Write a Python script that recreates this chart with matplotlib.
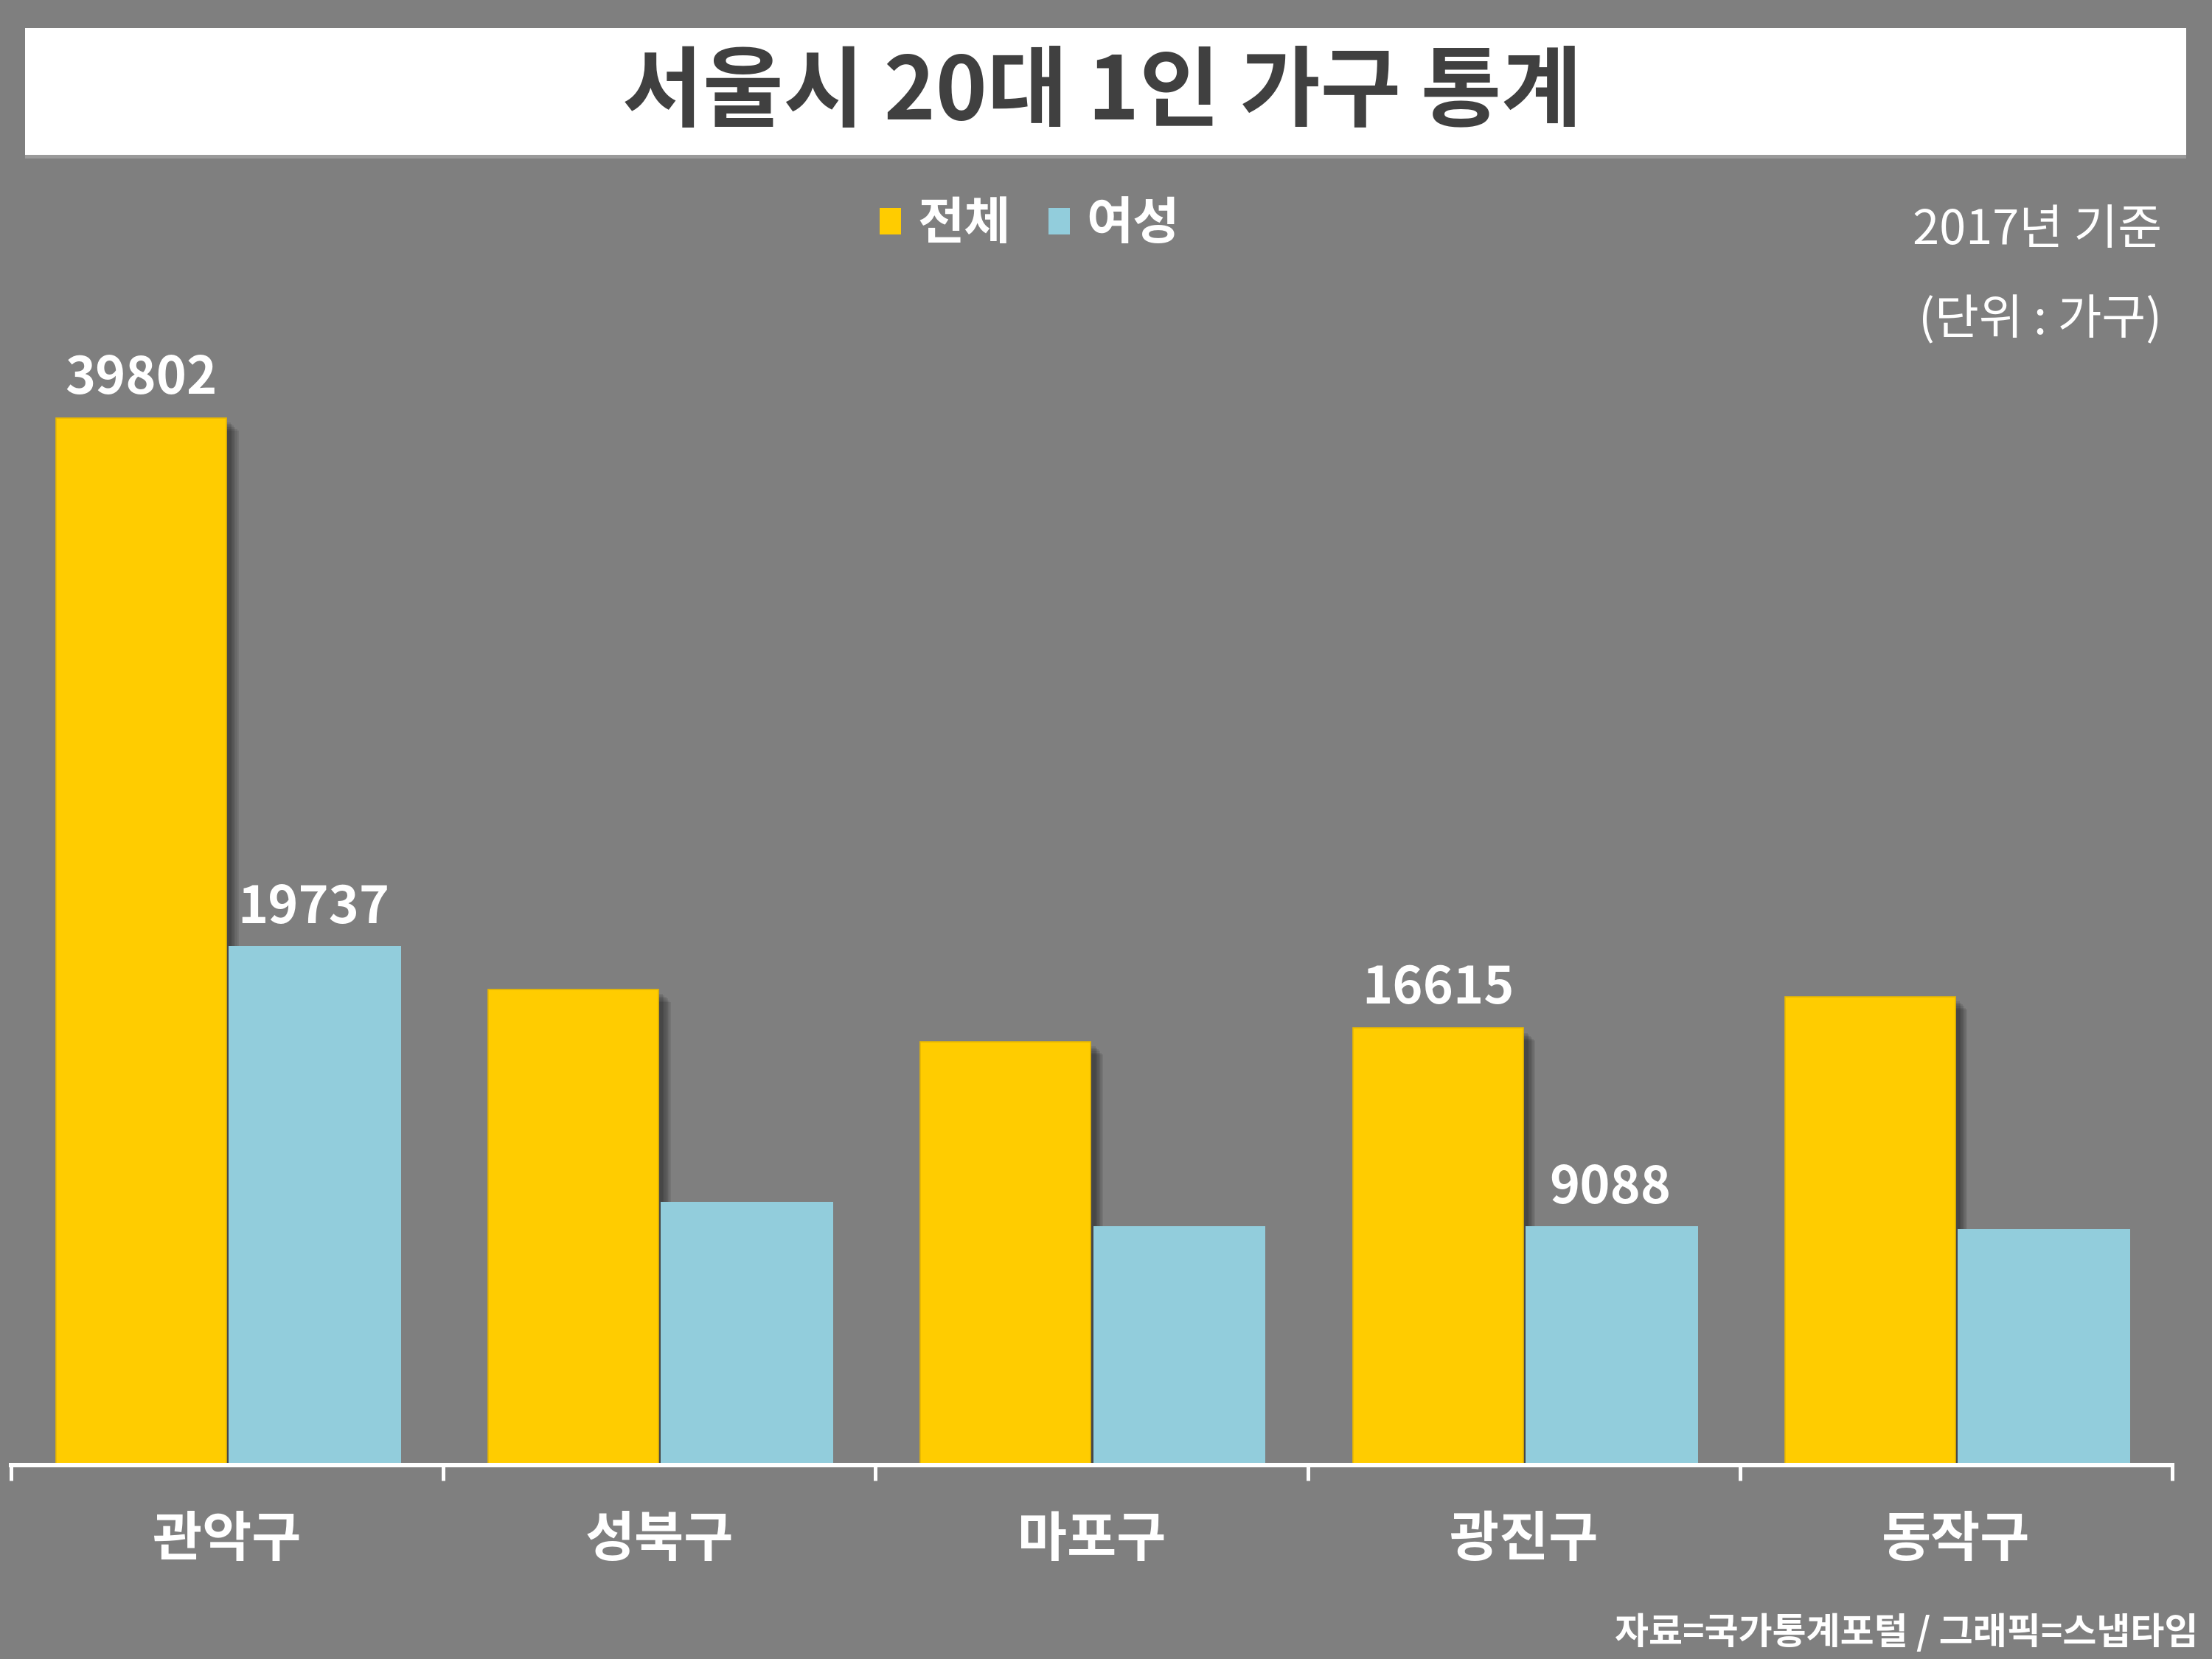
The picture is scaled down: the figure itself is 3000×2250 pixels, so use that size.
import matplotlib
matplotlib.use("Agg")
import matplotlib.pyplot as plt
from matplotlib import patheffects as pe
from matplotlib.patches import Rectangle

plt.rcParams['font.family'] = ['Noto Sans CJK KR', 'DejaVu Sans']

# ---- data ----
categories = ['관악구', '성북구', '마포구', '광진구', '동작구']
total = [39802, 18084, 16094, 16615, 17804]
female = [19737, 10013, 9090, 9088, 8976]
show_total_label = [True, False, False, True, False]
show_female_label = [True, False, False, True, False]
series_names = ['전체', '여성']
title = '서울시 20대 1인 가구 통계'
note1 = '2017년 기준'
note2 = '(단위 : 가구)'
source = '자료=국가통계포털 / 그래픽=스냅타임'

BG = '#7F7F7F'
YELLOW = '#FFCC00'
BLUE = '#92CDDC'

fig = plt.figure(figsize=(10, 7.5), dpi=300, facecolor=BG)

# title box
fig.patches.append(Rectangle((0.01133, 0.9067), 0.977, 0.0764, transform=fig.transFigure,
                             facecolor='white', edgecolor='none', zorder=0,
                             path_effects=[pe.SimplePatchShadow(offset=(0, -1.2), shadow_rgbFace='#9a9a9a', alpha=1.0), pe.Normal()]))
fig.text(0.4983, 0.9435, title, ha='center', va='center', fontsize=28.5, fontweight='heavy', color='#404040')

ax = fig.add_axes([0.005, 0.11676, 0.977, 0.71369])
ax.set_facecolor('none')
x = list(range(len(categories)))

shadow = [pe.SimplePatchShadow(offset=(o, -o), shadow_rgbFace='black', alpha=0.085)
          for o in (4.0, 3.5, 3.0, 2.5, 2.0, 1.5)] + [pe.Normal()]

b1 = ax.bar([i - 0.199 for i in x], total, width=0.394, color=YELLOW, edgecolor='#E8B800',
            linewidth=0.4, label=series_names[0], zorder=2)
for p in b1.patches:
    p.set_path_effects(shadow)
b2 = ax.bar([i + 0.203 for i in x], female, width=0.399, color=BLUE, edgecolor='none',
            label=series_names[1], zorder=3)

for i, (v, s) in enumerate(zip(total, show_total_label)):
    if s:
        ax.annotate(str(v), (i - 0.199, v), xytext=(0, 8), textcoords='offset points',
                    ha='center', va='baseline', fontsize=16.8, fontweight='bold', color='white', zorder=5)
for i, (v, s) in enumerate(zip(female, show_female_label)):
    if s:
        ax.annotate(str(v), (i + 0.2, v), xytext=(0, 7.5), textcoords='offset points',
                    ha='center', va='baseline', fontsize=16.8, fontweight='bold', color='white', zorder=5)

ax.set_xlim(-0.5, len(categories) - 0.5)
ax.set_ylim(0, 45000)
for s in ['top', 'left', 'right']:
    ax.spines[s].set_visible(False)
ax.spines['bottom'].set_color('white')
ax.spines['bottom'].set_linewidth(1.45)
ax.spines['bottom'].set_zorder(6)
ax.set_yticks([])
ax.set_xticks([i - 0.5 for i in range(len(categories) + 1)])
ax.set_xticklabels([])
ax.tick_params(axis='x', which='major', direction='out', length=5, width=1.2, color='white')
ax.set_xticks(x, minor=True)
ax.set_xticklabels(categories, minor=True)
ax.tick_params(axis='x', which='minor', length=0, pad=15.5, labelsize=17.5, labelcolor='white')
for t in ax.get_xticklabels(minor=True):
    t.set_fontweight('bold')

legend_handles = [Rectangle((0, 0), 1, 1, facecolor=YELLOW, edgecolor='none'),
                  Rectangle((0, 0), 1, 1, facecolor=BLUE, edgecolor='none')]
leg = fig.legend(handles=legend_handles, labels=series_names, loc='center',
                 bbox_to_anchor=(0.4655, 0.8648), ncol=2, frameon=False,
                 fontsize=16.5, labelcolor='white', handlelength=0.42, handleheight=0.44,
                 handletextpad=0.32, columnspacing=0.75, borderpad=0)
for t in leg.get_texts():
    t.set_fontweight('bold')

fig.text(0.9773, 0.8610, note1, ha='right', va='center', fontsize=15.6, color='white', fontweight='medium')
fig.text(0.9773, 0.8067, note2, ha='right', va='center', fontsize=15.6, color='white', fontweight='medium')
fig.text(0.9937, 0.0158, source, ha='right', va='center', fontsize=12, color='white', fontweight='bold')

fig.savefig('out.png', dpi=300, facecolor=BG)
